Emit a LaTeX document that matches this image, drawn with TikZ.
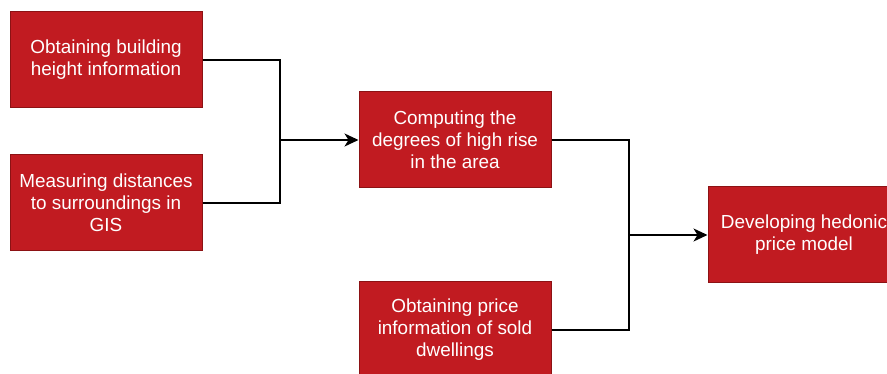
\documentclass[tikz,border=0pt]{standalone}
\usepackage{fontspec}
\setmainfont{Liberation Sans}
\usetikzlibrary{arrows.meta}
\definecolor{boxred}{RGB}{193,27,33}
\definecolor{boxedge}{RGB}{140,18,20}
\tikzset{
  procbox/.style={rectangle, draw=boxedge, line width=1pt, fill=boxred,
    minimum width=192pt, minimum height=96pt, inner sep=0pt,
    text=white, align=center, font=\fontsize{18.9pt}{22pt}\selectfont},
  link/.style={draw=black, line width=1.3pt},
  arr/.style={link, -{Stealth[length=14pt,width=13pt,inset=4pt]}}
}
\begin{document}
\begin{tikzpicture}[x=1pt,y=-1pt]
\useasboundingbox (0,0) rectangle (887,374);
\clip (0,0) rectangle (887,374);
\fill[white] (0,0) rectangle (887,374);
\node[procbox] (b1) at (106,60) {Obtaining building\\height information};
\node[procbox] (b2) at (106,203) {Measuring distances\\to surroundings in\\GIS};
\node[procbox] (b3) at (455,140) {Computing the\\degrees of high rise\\in the area};
\node[procbox] (b4) at (455,330) {Obtaining price\\information of sold\\dwellings};
\node[procbox] (b5) at (804,235) {Developing hedonic\\price model};
\coordinate (j1) at (280,140);
\coordinate (j2) at (629,235);
\draw[link] (b1.east) -| (j1);
\draw[link] (b2.east) -| (j1);
\draw[arr] (j1) -- (b3.west);
\draw[link] (b3.east) -| (j2);
\draw[link] (b4.east) -| (j2);
\draw[arr] (j2) -- (b5.west);
\end{tikzpicture}
\end{document}
